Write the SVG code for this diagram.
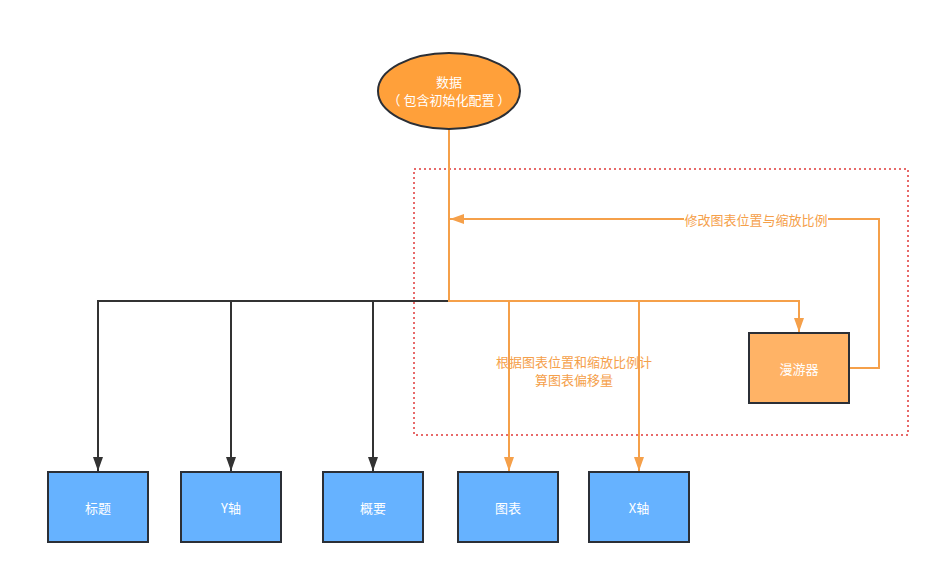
<svg xmlns="http://www.w3.org/2000/svg" width="940" height="574" viewBox="0 0 940 574">
<style>
text{font-family:"Noto Sans CJK SC","Liberation Sans",sans-serif;font-size:13px;text-anchor:middle;dominant-baseline:central}
.box{fill:#66B2FF;stroke:#2b2f36;stroke-width:2}
.w{fill:#ffffff}
.o{fill:#F5A04A}
.bl{fill:none;stroke:#333333;stroke-width:2}
.ol{fill:none;stroke:#F5A04A;stroke-width:2}
</style>
<defs>
<marker id="ab" markerWidth="14" markerHeight="10" refX="14" refY="5" orient="auto" markerUnits="userSpaceOnUse"><path d="M0,0 L14,5 L0,10 Z" fill="#333333"/></marker>
<marker id="ao" markerWidth="14" markerHeight="10" refX="14" refY="5" orient="auto" markerUnits="userSpaceOnUse"><path d="M0,0 L14,5 L0,10 Z" fill="#F5A04A"/></marker>
</defs>
<rect width="940" height="574" fill="#ffffff"/>
<rect id="group-box" x="414" y="169" width="494" height="266" fill="none" stroke="#E03A3A" stroke-width="1.5" stroke-dasharray="2 3"/>
<g id="connectors">
<path class="bl" d="M449,301 L98,301 L98,471" marker-end="url(#ab)"/>
<path class="bl" d="M231,301 L231,471" marker-end="url(#ab)"/>
<path class="bl" d="M373,301 L373,471" marker-end="url(#ab)"/>
<path class="ol" d="M449,129 L449,301 L799,301 L799,332" marker-end="url(#ao)"/>
<path class="ol" d="M509,301 L509,471" marker-end="url(#ao)"/>
<path class="ol" d="M639,301 L639,471" marker-end="url(#ao)"/>
<path class="ol" d="M849,368 L879,368 L879,219 L450,219" marker-end="url(#ao)"/>
<rect x="684" y="210" width="144" height="18" fill="#ffffff"/>
<text class="o" x="756" y="219">修改图表位置与缩放比例</text>
<text class="o" x="574" y="361">根据图表位置和缩放比例计</text>
<text class="o" x="574" y="379">算图表偏移量</text>
</g>
<g id="data">
<ellipse cx="449" cy="91" rx="71" ry="38" fill="#FFA03A" stroke="#2b2f36" stroke-width="2"/>
<text class="w" x="449" y="81">数据</text>
<text class="w" x="449" y="99">（ 包含初始化配置 ）</text>
</g>
<g id="roamer">
<rect x="749" y="333" width="100" height="70" fill="#FFB366" stroke="#2b2f36" stroke-width="2"/>
<text class="w" x="799" y="368">漫游器</text>
</g>
<g id="title"><rect class="box" x="48" y="472" width="100" height="70"/><text class="w" x="98" y="507">标题</text></g>
<g id="yaxis"><rect class="box" x="181" y="472" width="100" height="70"/><text class="w" x="231" y="507">Y轴</text></g>
<g id="summary"><rect class="box" x="323" y="472" width="100" height="70"/><text class="w" x="373" y="507">概要</text></g>
<g id="chart"><rect class="box" x="458" y="472" width="100" height="70"/><text class="w" x="508" y="507">图表</text></g>
<g id="xaxis"><rect class="box" x="589" y="472" width="100" height="70"/><text class="w" x="639" y="507">X轴</text></g>
</svg>
